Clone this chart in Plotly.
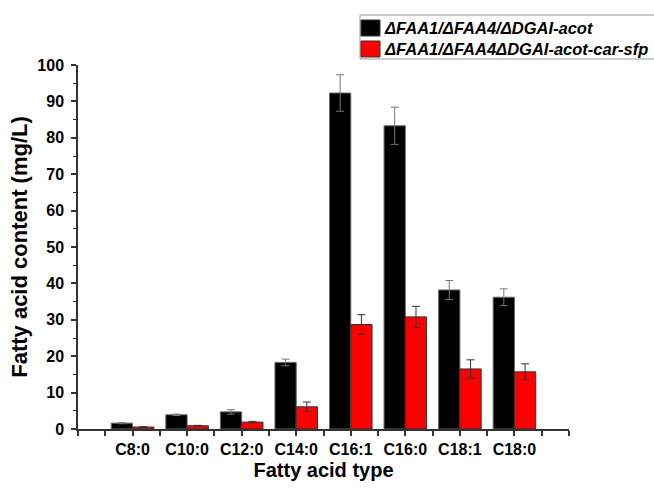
import plotly.graph_objects as go

categories = ["C8:0", "C10:0", "C12:0", "C14:0", "C16:1", "C16:0", "C18:1", "C18:0"]
series1_name = "ΔFAA1/ΔFAA4/ΔDGAI-acot"
series2_name = "ΔFAA1/ΔFAA4ΔDGAI-acot-car-sfp"
series1 = [1.6, 3.9, 4.7, 18.3, 92.3, 83.3, 38.2, 36.2]
series1_err = [0.15, 0.2, 0.6, 0.9, 5.0, 5.1, 2.6, 2.3]
series2 = [0.55, 0.9, 1.9, 6.1, 28.7, 30.8, 16.5, 15.7]
series2_err = [0.1, 0.1, 0.2, 1.3, 2.7, 2.9, 2.5, 2.2]
series_colors = ["black", "#ff0000"]

xpos = list(range(len(categories)))
FONT = "Liberation Sans, Arial, sans-serif"
W, H = 654, 490
ML, MR, MT, MB = 78, 85, 65, 61
PW, PH = W - ML - MR, H - MT - MB


def px_x(p):
    return (p - ML) / PW


def px_y(p):
    return (H - MB - p) / PH


fig = go.Figure()
fig.add_trace(go.Bar(
    x=xpos, y=series1, name=series1_name, offsetgroup="a",
    marker=dict(color=series_colors[0], line=dict(color="#666666", width=1)),
    error_y=dict(type="data", array=series1_err, color="#777777", thickness=1, width=4),
))
fig.add_trace(go.Bar(
    x=xpos, y=series2, name=series2_name, offsetgroup="b",
    marker=dict(color=series_colors[1], line=dict(color="#333333", width=1)),
    error_y=dict(type="data", array=series2_err, color="#333333", thickness=1, width=4),
))

# Legend box, drawn by hand so that swatches and text sit like the reference
fig.add_shape(
    type="rect", xref="paper", yref="paper",
    x0=px_x(360), x1=px_x(662), y0=px_y(59), y1=px_y(15),
    line=dict(color="#999999", width=1), fillcolor="white", layer="above",
)
for i, (name, col) in enumerate(zip([series1_name, series2_name], series_colors)):
    cy = 28 + 21 * i
    fig.add_shape(
        type="rect", xref="paper", yref="paper",
        x0=px_x(361), x1=px_x(380), y0=px_y(cy + 8), y1=px_y(cy - 8),
        line=dict(color="#333333", width=1), fillcolor=col, layer="above",
    )
    fig.add_annotation(
        xref="paper", yref="paper", x=px_x(382), y=px_y(cy),
        xanchor="left", yanchor="middle", showarrow=False, text=name,
        font=dict(family=FONT, size=16.5, weight="bold", style="italic", color="black"),
    )

fig.update_layout(
    width=W, height=H,
    margin=dict(l=ML, r=MR, t=MT, b=MB, autoexpand=False),
    plot_bgcolor="white", paper_bgcolor="white",
    barmode="group", bargap=0.22, bargroupgap=0,
    font=dict(family=FONT, color="black"),
    showlegend=False,
    xaxis=dict(
        range=[-1, 8], tickvals=xpos, ticktext=categories,
        showline=True, linecolor="#333333", linewidth=1.5,
        ticks="outside", ticklen=5, tickwidth=1.5, tickcolor="#333333",
        minor=dict(dtick=0.5, tick0=0, ticks="outside", ticklen=5, tickwidth=1.5, tickcolor="#333333"),
        showgrid=False, zeroline=False,
        tickfont=dict(family=FONT, size=16, weight="bold"),
        title=dict(text="Fatty acid type", font=dict(family=FONT, size=20, weight="bold"), standoff=6),
    ),
    yaxis=dict(
        range=[0, 100], dtick=10, tick0=0,
        showline=True, linecolor="#333333", linewidth=1.5,
        ticks="outside", ticklen=5, tickwidth=1.5, tickcolor="#333333",
        minor=dict(dtick=5, tick0=0, ticks="outside", ticklen=3, tickwidth=1.2, tickcolor="#333333"),
        showgrid=False, zeroline=False, ticklabelstandoff=4,
        tickfont=dict(family=FONT, size=16, weight="bold"),
        title=dict(text="Fatty acid content (mg/L)", font=dict(family=FONT, size=22, weight="bold"), standoff=4),
    ),
)

fig.write_html(
    "out.html",
    config={"displayModeBar": False},
    post_script="document.body.style.margin='0';document.body.style.overflow='hidden';",
)
